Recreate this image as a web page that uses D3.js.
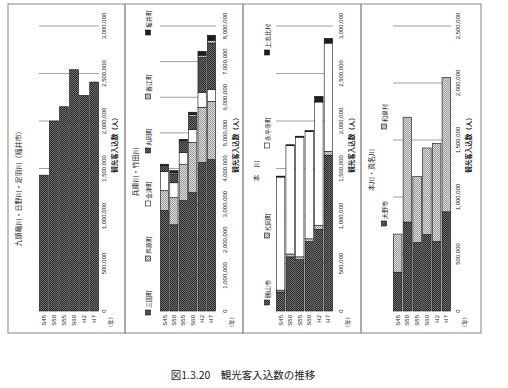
<!DOCTYPE html>
<html>
<head>
<meta charset="utf-8">
<script src="https://cdn.jsdelivr.net/npm/d3@7"></script>
<style>
  html, body { margin: 0; padding: 0; background: #fff; }
  svg { display: block; }
  text { font-family: "Noto Sans CJK JP", "Liberation Sans", sans-serif; fill: #222; }
  .num { font-family: "Liberation Sans", Arial, sans-serif; }
</style>
</head>
<body>
<svg id="chart" width="508" height="388"></svg>
<script>
'use strict';

var years = ['S45', 'S50', 'S55', 'S60', 'H2', 'H7'];

// 九頭竜川・日野川・足羽川（福井市）
var fukuiCity = [1430000, 2000000, 2150000, 2540000, 2270000, 2410000];

// 兵庫川・竹田川
var mikuni  = [2820000, 2420000, 3100000, 3320000, 4170000, 4250000];
var awara   = [560000, 760000, 1010000, 1410000, 1550000, 1630000];
var kanazu  = [540000, 420000, 340000, 370000, 420000, 340000];
var maruoka = [130000, 250000, 280000, 360000, 980000, 1300000];
var harue   = [30000, 40000, 40000, 50000, 60000, 80000];
var sakai   = [40000, 50000, 50000, 70000, 110000, 140000];

// 本川
var katsuyama = [200000, 570000, 540000, 730000, 860000, 1640000];
var matsuoka  = [20000, 30000, 30000, 30000, 40000, 40000];
var eiheiji   = [1190000, 1140000, 1260000, 1130000, 1300000, 1140000];
var kamishihi = [10000, 10000, 10000, 10000, 60000, 50000];

// 本川・真名川
var ono   = [340000, 780000, 600000, 670000, 610000, 870000];
var izumi = [335000, 920000, 580000, 760000, 860000, 1180000];

var ticks3m  = [0, 500000, 1000000, 1500000, 2000000, 2500000, 3000000];
var ticks8m  = [0, 1000000, 2000000, 3000000, 4000000, 5000000, 6000000, 7000000, 8000000];
var ticks25m = [0, 500000, 1000000, 1500000, 2000000, 2500000];

var axisTitle = '観光客入込数（人）';
var yearTitle = '（年）';
var caption = '図1.3.20　観光客入込数の推移';

// layout (screen px); every panel is a horizontal bar chart turned -90deg
var baseY = 311, plotH = 285;
var panels = [
  { title: '九頭竜川・日野川・足羽川（福井市）', frame: [8, 125], left: 39, span: 60, titleX: 124, titleY: -21,
    ticks: ticks3m, legend: null,
    series: [{ name: '福井市', values: fukuiCity, fill: 'dark' }] },
  { title: '兵庫川・竹田川', frame: [125, 243], left: 160, span: 56, titleX: 139, titleY: -25,
    ticks: ticks8m, legend: { y: -12, at: [-4, 50, 105, 158, 212, 276] },
    series: [
      { name: '三国町', values: mikuni, fill: 'dark' },
      { name: '芦原町', values: awara, fill: 'light' },
      { name: '金津町', values: kanazu, fill: 'white' },
      { name: '丸岡町', values: maruoka, fill: 'dark' },
      { name: '春江町', values: harue, fill: 'light' },
      { name: '坂井町', values: sakai, fill: 'black' }] },
  { title: '本　川', frame: [243, 361], left: 276, span: 57, titleX: 140, titleY: -20,
    ticks: ticks3m, legend: { y: -9, at: [6, 73, 163, 256] },
    series: [
      { name: '勝山市', values: katsuyama, fill: 'dark' },
      { name: '松岡町', values: matsuoka, fill: 'light' },
      { name: '永平寺町', values: eiheiji, fill: 'white' },
      { name: '上志比村', values: kamishihi, fill: 'black' }] },
  { title: '本川・真名川', frame: [361, 481], left: 393, span: 58, titleX: 141, titleY: -22,
    ticks: ticks25m, legend: { y: -9, at: [85, 182] },
    series: [
      { name: '大野市', values: ono, fill: 'dark' },
      { name: '和泉村', values: izumi, fill: 'light' }] }
];

var svg = d3.select('#chart');
var fmt = d3.format(',');

var defs = svg.append('defs');
function checker(id, base, dot) {
  var p = defs.append('pattern').attr('id', id)
    .attr('patternUnits', 'userSpaceOnUse').attr('width', 2).attr('height', 2);
  p.append('rect').attr('width', 2).attr('height', 2).attr('fill', base);
  p.append('rect').attr('width', 1).attr('height', 1).attr('fill', dot);
  p.append('rect').attr('x', 1).attr('y', 1).attr('width', 1).attr('height', 1).attr('fill', dot);
}
checker('pat-dark', '#6e6e6e', '#2c2c2c');
checker('pat-light', '#dcdcdc', '#9c9c9c');

var fills = {
  dark: 'url(#pat-dark)',
  light: 'url(#pat-light)',
  white: '#ffffff',
  black: '#1e1e1e'
};

function drawPanel(p) {
  svg.append('rect')
    .attr('x', p.frame[0]).attr('y', 4)
    .attr('width', p.frame[1] - p.frame[0]).attr('height', 329)
    .attr('fill', 'none').attr('stroke', '#9a9a9a').attr('stroke-width', 1.2);

  var g = svg.append('g')
    .attr('transform', 'translate(' + p.left + ',' + baseY + ') rotate(-90)');

  var x = d3.scaleLinear().domain([0, d3.max(p.ticks)]).range([0, plotH]);
  var y = d3.scaleBand().domain(years).range([0, p.span]).paddingInner(0.12).paddingOuter(0.04);

  g.selectAll('line.grid')
    .data(p.ticks.slice(1))
    .join('line')
      .attr('class', 'grid')
      .attr('x1', x).attr('x2', x)
      .attr('y1', 0).attr('y2', p.span)
      .attr('stroke', '#8a8a8a').attr('stroke-width', 0.8);

  var keys = p.series.map(function(s) { return s.name; });
  var rows = years.map(function(yr, i) {
    var o = { year: yr };
    p.series.forEach(function(s) { o[s.name] = s.values[i]; });
    return o;
  });
  var layers = d3.stack().keys(keys)(rows);

  g.selectAll('g.layer')
    .data(layers)
    .join('g')
      .attr('class', 'layer')
      .attr('fill', function(d, i) { return fills[p.series[i].fill]; })
    .selectAll('rect')
    .data(function(d) { return d; })
    .join('rect')
      .attr('x', function(d) { return x(d[0]); })
      .attr('width', function(d) { return x(d[1]) - x(d[0]); })
      .attr('y', function(d) { return y(d.data.year); })
      .attr('height', y.bandwidth())
      .attr('stroke', '#111').attr('stroke-width', 0.6);

  g.selectAll('text.tick')
    .data(p.ticks)
    .join('text')
      .attr('class', 'tick num')
      .attr('x', x).attr('y', 65)
      .attr('text-anchor', 'middle').attr('dominant-baseline', 'central')
      .attr('font-size', 6)
      .text(fmt);

  g.selectAll('text.cat')
    .data(years)
    .join('text')
      .attr('class', 'cat num')
      .attr('x', -4)
      .attr('y', function(d) { return y(d) + y.bandwidth() / 2; })
      .attr('text-anchor', 'end').attr('dominant-baseline', 'central')
      .attr('font-size', 6)
      .text(function(d) { return d; });

  g.append('text')
    .attr('x', plotH / 2 + 25).attr('y', 75)
    .attr('text-anchor', 'middle').attr('dominant-baseline', 'central')
    .attr('font-size', 6.5).attr('font-weight', 'bold')
    .text(axisTitle);

  g.append('text')
    .attr('x', -3).attr('y', 72)
    .attr('text-anchor', 'end').attr('dominant-baseline', 'central')
    .attr('font-size', 5.5)
    .text(yearTitle);

  g.append('text')
    .attr('x', p.titleX).attr('y', p.titleY)
    .attr('text-anchor', 'middle').attr('dominant-baseline', 'central')
    .attr('font-size', 7)
    .text(p.title);

  if (p.legend) {
    var item = g.selectAll('g.legend')
      .data(p.series)
      .join('g')
        .attr('class', 'legend')
        .attr('transform', function(d, i) { return 'translate(' + p.legend.at[i] + ',' + p.legend.y + ')'; });
    item.append('rect')
      .attr('x', 0).attr('y', -2.5).attr('width', 5).attr('height', 5)
      .attr('fill', function(d) { return fills[d.fill]; })
      .attr('stroke', '#111').attr('stroke-width', 0.6);
    item.append('text')
      .attr('x', 7).attr('y', 0)
      .attr('dominant-baseline', 'central')
      .attr('font-size', 6)
      .text(function(d) { return d.name; });
  }
}

panels.forEach(drawPanel);

svg.append('text')
  .attr('x', 243).attr('y', 374)
  .attr('text-anchor', 'middle').attr('dominant-baseline', 'central')
  .attr('font-size', 10.5)
  .text(caption);
</script>
</body>
</html>
